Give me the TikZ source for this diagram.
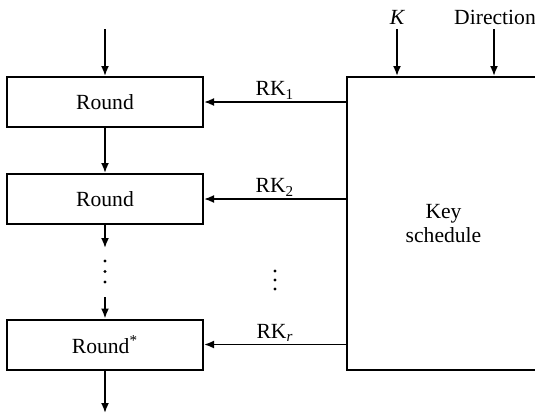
\documentclass[tikz,border=0pt]{standalone}
\usepackage{fontspec}
\setmainfont{Liberation Serif}
\usetikzlibrary{arrows.meta}
\begin{document}
\begin{tikzpicture}[x=0.5pt,y=-0.5pt,
  every node/.style={font=\fontsize{10.8}{13}\selectfont},
  roundbox/.style={draw,line width=1pt,minimum width=98pt,minimum height=25pt,inner sep=0pt},
  keybox/.style={draw,line width=1pt,minimum width=96.5pt,minimum height=146.5pt,inner sep=0pt,align=center},
  conn/.style={line width=0.9pt,-{Latex[length=5pt,width=4pt]}},
  lbl/.style={inner sep=1pt},
  dotmark/.style={circle,fill,inner sep=0pt,minimum size=1.7pt}]
\useasboundingbox (0,0) rectangle (535,413);
\clip (0,0) rectangle (535,413);
% rounds
\node[roundbox] (r1) at (105,102) {Round};
\node[roundbox] (r2) at (105,199) {Round};
\node[roundbox] (r3) at (105,344.5) {Round\textsuperscript{*}};
% key schedule (right side runs off the picture)
\node[keybox] (ks) at (443.5,223.5) {Key\\[-1pt]schedule};
% inputs
\coordinate (in) at (105,29);
\coordinate (kin) at (397,29);
\coordinate (din) at (494,29);
\node[lbl,anchor=south] (klbl) at (397,27) {\itshape K};
\node[lbl,anchor=south] (dlbl) at (495,27) {Direction};
\draw[conn] (in) -- (r1.north);
\draw[conn] (kin) -- (kin |- ks.north);
\draw[conn] (din) -- (din |- ks.north);
% round chain
\draw[conn] (r1.south) -- (r2.north);
\coordinate (c1) at (105,248);
\coordinate (c2) at (105,297);
\coordinate (out) at (105,413);
\draw[conn] (r2.south) -- (c1);
\node[dotmark] (d1) at (105,261) {};
\node[dotmark] (d2) at (105,271.5) {};
\node[dotmark] (d3) at (105,282) {};
\draw[conn] (c2) -- (r3.north);
\draw[conn] (r3.south) -- (out);
% round keys
\draw[conn] (ks.west |- r1) -- node[lbl,above] (rk1) {RK\textsubscript{1}} (r1.east);
\draw[conn] (ks.west |- r2) -- node[lbl,above] (rk2) {RK\textsubscript{2}} (r2.east);
\draw[conn] (ks.west |- r3) -- node[lbl,above] (rkr) {RK\textsubscript{\itshape r}} (r3.east);
\node[dotmark] (m1) at (275,271) {};
\node[dotmark] (m2) at (275,280) {};
\node[dotmark] (m3) at (275,289) {};
\end{tikzpicture}
\end{document}
